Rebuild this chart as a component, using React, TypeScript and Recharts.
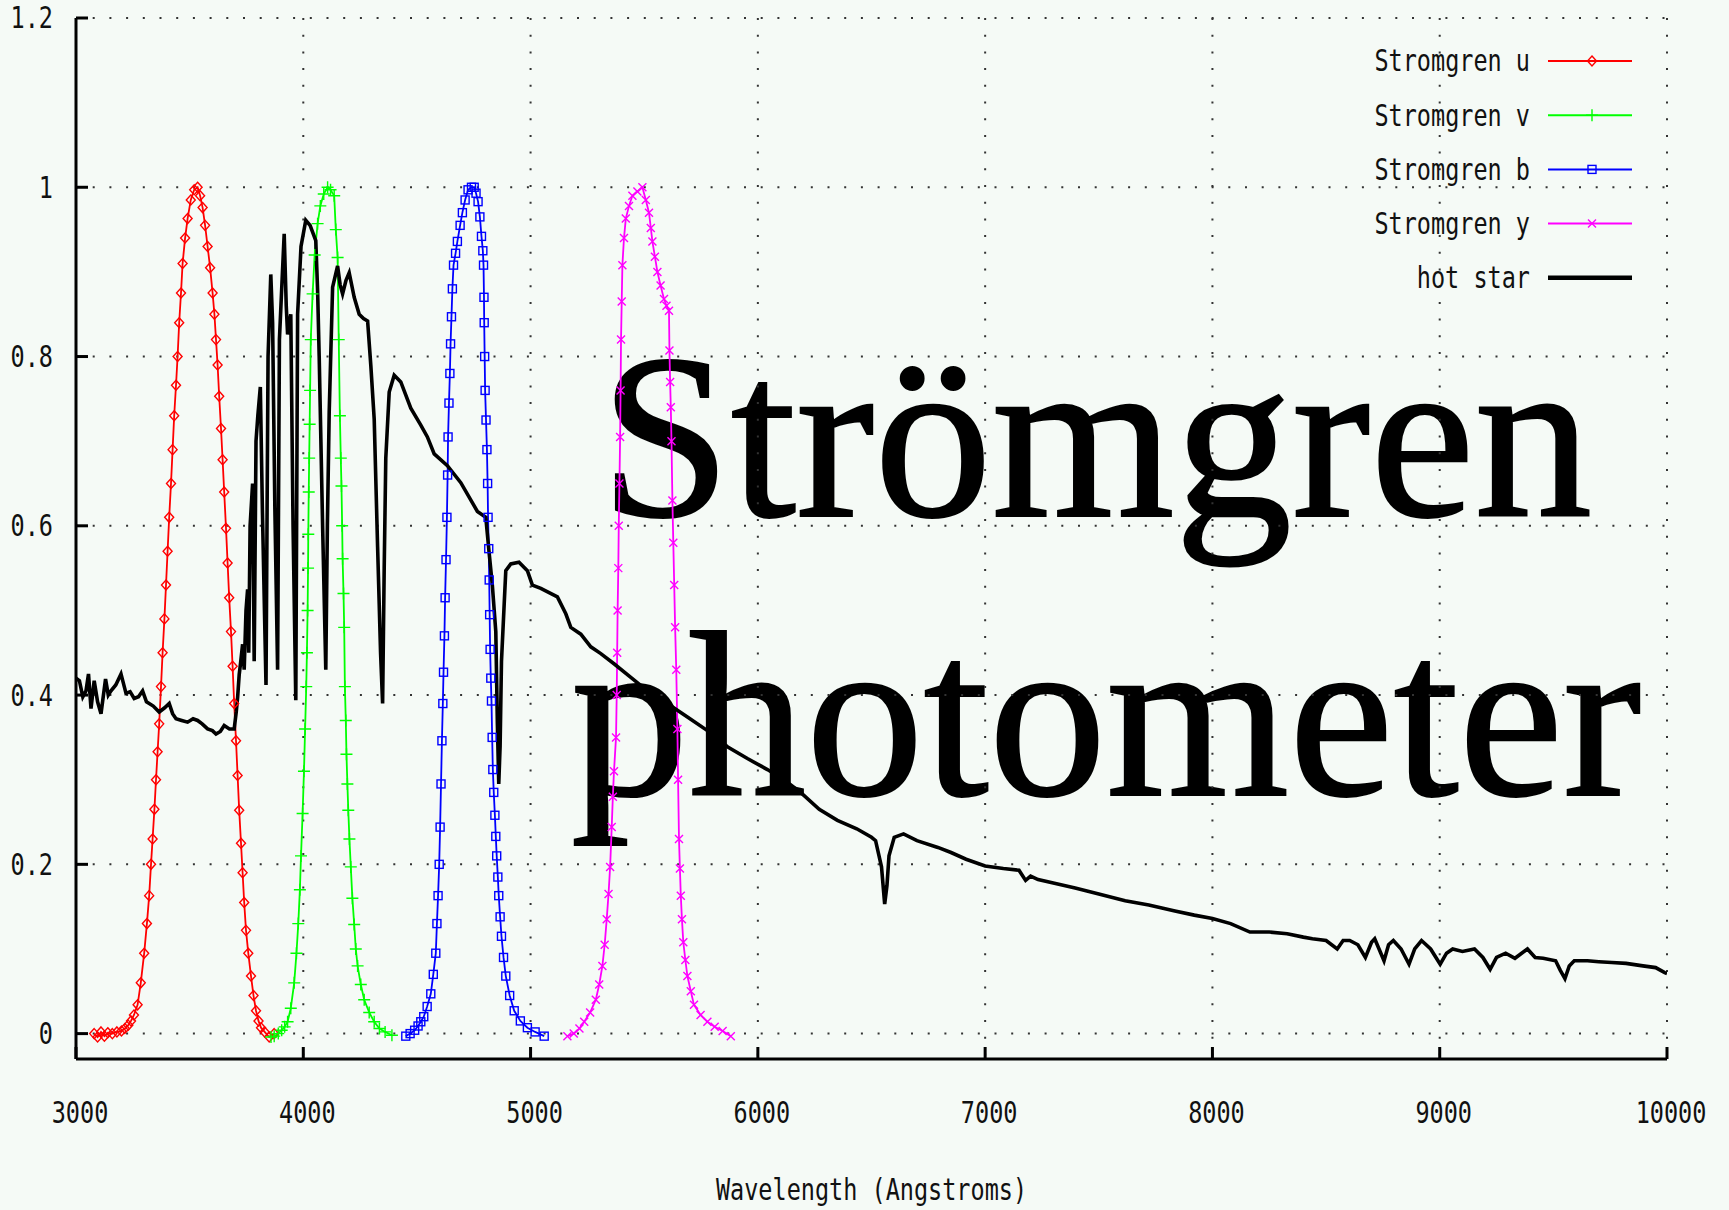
import React from 'react';
import { LineChart, Line, XAxis, YAxis, CartesianGrid, Legend, Label } from 'recharts';

// [wavelength (Angstrom), normalised response]
const stromgrenU: [number, number][] = [
  [3080, 0], [3095, -0.004], [3110, 0.002], [3125, -0.003], [3140, 0.001], [3160, 0], [3180, 0.002],
  [3200, 0.003], [3215, 0.006], [3230, 0.01], [3242, 0.015], [3255, 0.022], [3271, 0.034], [3285, 0.06],
  [3300, 0.095], [3312, 0.13], [3322, 0.163], [3330, 0.2], [3337, 0.23], [3345, 0.265], [3352, 0.3],
  [3359, 0.333], [3366, 0.366], [3374, 0.41], [3381, 0.45], [3389, 0.49], [3396, 0.53], [3403, 0.57],
  [3410, 0.61], [3418, 0.65], [3425, 0.69], [3432, 0.73], [3440, 0.766], [3447, 0.8], [3454, 0.84],
  [3462, 0.875], [3469, 0.91], [3480, 0.94], [3491, 0.963], [3505, 0.985], [3520, 0.997], [3535, 1.0],
  [3546, 0.99], [3557, 0.976], [3568, 0.955], [3579, 0.93], [3590, 0.905], [3601, 0.875], [3609, 0.85],
  [3616, 0.82], [3623, 0.79], [3630, 0.753], [3638, 0.715], [3645, 0.678], [3652, 0.64], [3660, 0.597],
  [3667, 0.556], [3674, 0.515], [3682, 0.475], [3689, 0.434], [3696, 0.39], [3704, 0.346], [3711, 0.305],
  [3718, 0.264], [3726, 0.225], [3733, 0.19], [3740, 0.155], [3748, 0.122], [3758, 0.095], [3770, 0.068],
  [3781, 0.045], [3792, 0.027], [3803, 0.015], [3814, 0.007], [3830, 0.002], [3850, -0.004], [3872, 0],
];

const stromgrenV: [number, number][] = [
  [3858, -0.004], [3872, -0.003], [3890, 0], [3905, 0.004], [3918, 0.008], [3931, 0.014], [3945, 0.03],
  [3960, 0.06], [3970, 0.095], [3978, 0.13], [3985, 0.17], [3990, 0.21], [3997, 0.26], [4003, 0.31],
  [4008, 0.36], [4013, 0.41], [4016, 0.45], [4019, 0.5], [4021, 0.55], [4022, 0.59], [4024, 0.64],
  [4026, 0.68], [4028, 0.72], [4030, 0.76], [4033, 0.82], [4041, 0.874], [4050, 0.92], [4063, 0.957],
  [4075, 0.978], [4090, 0.992], [4107, 1.0], [4120, 0.997], [4136, 0.99], [4143, 0.95], [4151, 0.917],
  [4156, 0.82], [4161, 0.73], [4165, 0.68], [4168, 0.647], [4171, 0.6], [4173, 0.561], [4177, 0.52],
  [4180, 0.48], [4183, 0.41], [4187, 0.37], [4190, 0.33], [4194, 0.295], [4198, 0.264], [4203, 0.23],
  [4209, 0.197], [4216, 0.16], [4224, 0.129], [4231, 0.1], [4239, 0.08], [4253, 0.058], [4268, 0.04],
  [4290, 0.025], [4312, 0.014], [4335, 0.006], [4360, 0.002], [4390, -0.002],
];

const stromgrenB: [number, number][] = [
  [4451, -0.003], [4470, 0], [4490, 0.004], [4505, 0.009], [4517, 0.014], [4530, 0.02], [4545, 0.032],
  [4561, 0.047], [4572, 0.07], [4583, 0.095], [4588, 0.13], [4593, 0.163], [4598, 0.2], [4602, 0.244],
  [4606, 0.295], [4610, 0.346], [4614, 0.39], [4617, 0.427], [4621, 0.47], [4624, 0.515], [4628, 0.56],
  [4632, 0.61], [4635, 0.66], [4637, 0.705], [4641, 0.745], [4645, 0.78], [4648, 0.815], [4652, 0.847],
  [4656, 0.88], [4661, 0.908], [4670, 0.922], [4678, 0.936], [4690, 0.955], [4700, 0.97], [4712, 0.985],
  [4725, 0.997], [4740, 1.0], [4752, 1.0], [4760, 0.993], [4769, 0.983], [4777, 0.965], [4784, 0.942],
  [4790, 0.925], [4793, 0.908], [4795, 0.87], [4796, 0.84], [4798, 0.8], [4800, 0.76], [4804, 0.725],
  [4808, 0.69], [4811, 0.65], [4813, 0.61], [4816, 0.573], [4818, 0.536], [4820, 0.495], [4822, 0.454],
  [4825, 0.42], [4828, 0.393], [4831, 0.35], [4834, 0.312], [4838, 0.285], [4843, 0.258], [4847, 0.233],
  [4851, 0.21], [4856, 0.185], [4860, 0.163], [4866, 0.138], [4872, 0.115], [4881, 0.09], [4891, 0.068],
  [4908, 0.045], [4928, 0.027], [4955, 0.015], [4986, 0.007], [5020, 0.002], [5060, -0.003],
];

const stromgrenY: [number, number][] = [
  [5162, -0.003], [5190, 0], [5215, 0.006], [5236, 0.014], [5262, 0.025], [5287, 0.04], [5302, 0.058],
  [5316, 0.08], [5326, 0.105], [5335, 0.135], [5343, 0.165], [5350, 0.197], [5357, 0.244], [5362, 0.28],
  [5367, 0.31], [5376, 0.35], [5379, 0.4], [5381, 0.45], [5383, 0.5], [5386, 0.55], [5388, 0.6],
  [5391, 0.65], [5394, 0.705], [5396, 0.76], [5398, 0.82], [5401, 0.865], [5404, 0.908], [5411, 0.94],
  [5419, 0.963], [5433, 0.978], [5448, 0.99], [5470, 0.995], [5492, 1.0], [5507, 0.985], [5521, 0.97],
  [5529, 0.952], [5536, 0.936], [5547, 0.918], [5558, 0.9], [5572, 0.884], [5587, 0.868], [5598, 0.86],
  [5609, 0.854], [5611, 0.807], [5614, 0.77], [5617, 0.74], [5620, 0.7], [5624, 0.63], [5628, 0.58],
  [5632, 0.53], [5636, 0.48], [5641, 0.43], [5646, 0.36], [5649, 0.3], [5653, 0.23], [5657, 0.195],
  [5661, 0.163], [5666, 0.135], [5672, 0.108], [5681, 0.087], [5690, 0.068], [5705, 0.05], [5719, 0.034],
  [5748, 0.022], [5778, 0.014], [5810, 0.008], [5845, 0.003], [5881, -0.003],
];

const hotStar: [number, number][] = [
  [3000, 0.42], [3015, 0.417], [3030, 0.398], [3044, 0.405], [3055, 0.425], [3066, 0.384], [3080, 0.417],
  [3095, 0.392], [3110, 0.378], [3130, 0.419], [3142, 0.4], [3154, 0.405], [3175, 0.412], [3198, 0.425],
  [3220, 0.402], [3238, 0.404], [3256, 0.396], [3275, 0.398], [3293, 0.405], [3310, 0.392], [3322, 0.39],
  [3340, 0.387], [3366, 0.38], [3390, 0.385], [3410, 0.39], [3425, 0.378], [3440, 0.372], [3465, 0.37],
  [3491, 0.368], [3515, 0.372], [3535, 0.37], [3555, 0.366], [3579, 0.36], [3600, 0.358], [3616, 0.354],
  [3635, 0.357], [3652, 0.364], [3675, 0.36], [3696, 0.36], [3705, 0.38], [3711, 0.397], [3718, 0.424],
  [3725, 0.44], [3733, 0.46], [3740, 0.43], [3748, 0.5], [3755, 0.525], [3760, 0.45], [3766, 0.6],
  [3777, 0.65], [3784, 0.44], [3792, 0.7], [3800, 0.73], [3811, 0.764], [3820, 0.62], [3836, 0.412],
  [3845, 0.8], [3857, 0.897], [3865, 0.84], [3875, 0.62], [3887, 0.43], [3895, 0.82], [3905, 0.88],
  [3916, 0.945], [3925, 0.86], [3931, 0.826], [3945, 0.85], [3955, 0.6], [3967, 0.394], [3975, 0.85],
  [3990, 0.93], [4011, 0.961], [4030, 0.955], [4055, 0.937], [4063, 0.878], [4070, 0.8], [4085, 0.6],
  [4099, 0.43], [4106, 0.6], [4114, 0.734], [4129, 0.882], [4151, 0.907], [4162, 0.885], [4173, 0.874],
  [4188, 0.89], [4202, 0.899], [4224, 0.87], [4246, 0.85], [4265, 0.845], [4283, 0.842], [4297, 0.79],
  [4312, 0.726], [4327, 0.575], [4340, 0.45], [4349, 0.39], [4356, 0.55], [4363, 0.68], [4378, 0.758],
  [4400, 0.778], [4429, 0.77], [4473, 0.739], [4517, 0.719], [4546, 0.705], [4576, 0.685], [4634, 0.671],
  [4693, 0.651], [4766, 0.617], [4803, 0.61], [4817, 0.57], [4832, 0.529], [4847, 0.475], [4854, 0.366],
  [4860, 0.295], [4866, 0.34], [4872, 0.44], [4884, 0.508], [4891, 0.547], [4913, 0.555], [4949, 0.557],
  [4986, 0.547], [5008, 0.53], [5045, 0.526], [5118, 0.516], [5155, 0.496], [5177, 0.48], [5221, 0.472],
  [5265, 0.457], [5309, 0.449], [5367, 0.437], [5441, 0.421], [5514, 0.405], [5602, 0.39], [5690, 0.374],
  [5778, 0.358], [5866, 0.339], [5954, 0.325], [6042, 0.312], [6115, 0.3], [6188, 0.285], [6270, 0.265],
  [6350, 0.252], [6435, 0.242], [6500, 0.232], [6518, 0.228], [6544, 0.197], [6558, 0.153], [6568, 0.175],
  [6577, 0.21], [6600, 0.232], [6641, 0.236], [6700, 0.228], [6792, 0.22], [6850, 0.214], [6916, 0.206],
  [7000, 0.198], [7080, 0.195], [7149, 0.193], [7178, 0.181], [7200, 0.186], [7233, 0.182], [7300, 0.178],
  [7396, 0.172], [7500, 0.165], [7616, 0.157], [7720, 0.152], [7835, 0.145], [7920, 0.14], [8000, 0.136],
  [8080, 0.13], [8165, 0.12], [8250, 0.12], [8329, 0.118], [8400, 0.114], [8440, 0.112], [8500, 0.11],
  [8549, 0.1], [8575, 0.11], [8604, 0.11], [8640, 0.105], [8673, 0.09], [8700, 0.108], [8714, 0.112],
  [8755, 0.086], [8775, 0.105], [8796, 0.11], [8830, 0.1], [8865, 0.082], [8890, 0.1], [8920, 0.11],
  [8960, 0.1], [9002, 0.082], [9030, 0.095], [9057, 0.1], [9100, 0.097], [9153, 0.1], [9190, 0.09],
  [9222, 0.076], [9250, 0.09], [9290, 0.095], [9331, 0.089], [9386, 0.1], [9420, 0.09], [9455, 0.089],
  [9510, 0.086], [9530, 0.075], [9551, 0.065], [9570, 0.08], [9592, 0.086], [9650, 0.086], [9700, 0.085],
  [9757, 0.084], [9820, 0.083], [9894, 0.08], [9950, 0.078], [9990, 0.072], [10000, 0.071],
];

const xTicks = [3000, 4000, 5000, 6000, 7000, 8000, 9000, 10000];
const yTicks = [0, 0.2, 0.4, 0.6, 0.8, 1, 1.2];

const series = [
  { name: 'Stromgren u', data: stromgrenU, color: '#ff0000', marker: 'diamond', width: 1.8 },
  { name: 'Stromgren v', data: stromgrenV, color: '#00ff00', marker: 'plus', width: 1.8 },
  { name: 'Stromgren b', data: stromgrenB, color: '#0000ff', marker: 'box', width: 1.8 },
  { name: 'Stromgren y', data: stromgrenY, color: '#ff00ff', marker: 'cross', width: 1.8 },
  { name: 'hot star', data: hotStar, color: '#000000', marker: null, width: 3.6 },
];

const BG = '#f5faf6';
const MONO = '"DejaVu Sans Mono", "Liberation Mono", monospace';
const SERIF = '"Liberation Serif", "Times New Roman", serif';

// gnuplot's pixel font is tall and narrow, so stretch the mono font a bit
const PixelText = ({ x, y, anchor, children }: any) => (
  <text
    x={0}
    y={0}
    transform={`translate(${x},${y}) scale(1,1.25)`}
    textAnchor={anchor}
    dominantBaseline="central"
    fontFamily={MONO}
    fontSize={23.5}
    fill="#111"
  >
    {children}
  </text>
);

const Marker = ({ shape, cx, cy, color }: any) => {
  if (cx == null || cy == null) return null;
  const common = { fill: 'none', stroke: color, strokeWidth: 1.4 };
  switch (shape) {
    case 'diamond':
      return <path d={`M${cx},${cy - 5}L${cx + 4.5},${cy}L${cx},${cy + 5}L${cx - 4.5},${cy}Z`} {...common} />;
    case 'plus':
      return <path d={`M${cx - 6},${cy}H${cx + 6}M${cx},${cy - 6}V${cy + 6}`} {...common} />;
    case 'box':
      return <rect x={cx - 4} y={cy - 4} width={8} height={8} {...common} />;
    case 'cross':
      return <path d={`M${cx - 4},${cy - 4}L${cx + 4},${cy + 4}M${cx - 4},${cy + 4}L${cx + 4},${cy - 4}`} {...common} />;
    default:
      return null;
  }
};

const BottomTick = ({ x, y, payload }: any) => (
  <g>
    <line x1={x} x2={x} y1={y} y2={y - 12} stroke="#000" strokeWidth={3} />
    <PixelText x={x + 4} y={y + 54} anchor="middle">{payload.value}</PixelText>
  </g>
);

const TopTick = ({ x, y }: any) => <line x1={x} x2={x} y1={y} y2={y + 11} stroke="#000" strokeWidth={3} />;

const LeftTick = ({ x, y, payload }: any) => (
  <g>
    <line x1={x} x2={x + 12} y1={y} y2={y} stroke="#000" strokeWidth={3} />
    <PixelText x={x - 23} y={y} anchor="end">{String(payload.value)}</PixelText>
  </g>
);

const RightTick = ({ x, y }: any) => <line x1={x} x2={x - 12} y1={y} y2={y} stroke="#000" strokeWidth={3} />;

const AxisTitle = ({ viewBox }: any) => {
  const { x, y, width } = viewBox;
  return <PixelText x={x + width / 2} y={y + 131} anchor="middle">Wavelength (Angstroms)</PixelText>;
};

const LegendBox = () => (
  <svg width={330} height={290}>
    {series.map((s, i) => {
      const cy = 41 + i * 54.2;
      return (
        <g key={s.name}>
          <PixelText x={200} y={cy} anchor="end">{s.name}</PixelText>
          <line x1={218} x2={302} y1={cy} y2={cy} stroke={s.color} strokeWidth={s.marker ? 2 : 4.5} />
          <Marker shape={s.marker} cx={262} cy={cy} color={s.color} />
        </g>
      );
    })}
  </svg>
);

export default function App() {
  return (
    <div style={{ position: 'absolute', left: 0, top: 0, width: 1729, height: 1210, background: BG, overflow: 'hidden' }}>
      <svg width={1729} height={1210} style={{ position: 'absolute', left: 0, top: 0 }}>
        <text x={600} y={516} fontFamily={SERIF} fontSize={235} fill="#000" stroke="#000" strokeWidth={2}>
          Strömgren
        </text>
        <text x={571} y={795} fontFamily={SERIF} fontSize={235} fill="#000" stroke="#000" strokeWidth={2}>
          photometer
        </text>
      </svg>
      <div style={{ position: 'absolute', left: 0, top: 0 }}>
        <LineChart width={1729} height={1210} margin={{ top: 18, right: 62, bottom: 0, left: 0 }}>
          <CartesianGrid stroke="#333" strokeWidth={2} strokeDasharray="2 14.7" />
          <XAxis
            type="number"
            dataKey="x"
            domain={[3000, 10000]}
            ticks={xTicks}
            interval={0}
            allowDataOverflow
            height={151}
            tickSize={0}
            tickMargin={0}
            tickLine={false}
            axisLine={{ stroke: '#000', strokeWidth: 3 }}
            tick={<BottomTick />}
          >
            <Label content={<AxisTitle />} />
          </XAxis>
          <XAxis
            xAxisId="top"
            orientation="top"
            type="number"
            dataKey="x"
            domain={[3000, 10000]}
            ticks={xTicks}
            interval={0}
            height={0}
            tickSize={0}
            tickMargin={0}
            tickLine={false}
            axisLine={{ stroke: '#000', strokeWidth: 3 }}
            tick={<TopTick />}
          />
          <YAxis
            type="number"
            domain={[-0.03, 1.2]}
            ticks={yTicks}
            interval={0}
            allowDataOverflow
            width={76}
            tickSize={0}
            tickMargin={0}
            tickLine={false}
            axisLine={{ stroke: '#000', strokeWidth: 3 }}
            tick={<LeftTick />}
          />
          <YAxis
            yAxisId="right"
            orientation="right"
            type="number"
            domain={[-0.03, 1.2]}
            ticks={yTicks}
            interval={0}
            width={0}
            tickSize={0}
            tickMargin={0}
            tickLine={false}
            axisLine={{ stroke: '#000', strokeWidth: 3 }}
            tick={<RightTick />}
          />
          <Legend
            layout="horizontal"
            verticalAlign="middle"
            align="center"
            content={() => <LegendBox />}
            wrapperStyle={{ position: 'absolute', left: 1330, top: 20, width: 330, height: 290 }}
          />
          {series.map((s) => (
            <Line
              key={s.name}
              name={s.name}
              data={s.data.map(([x, y]) => ({ x, y }))}
              dataKey="y"
              type="linear"
              stroke={s.color}
              strokeWidth={s.width}
              isAnimationActive={false}
              dot={
                s.marker
                  ? (p: any) => <Marker key={`${s.name}-${p.index}`} shape={s.marker} cx={p.cx} cy={p.cy} color={s.color} />
                  : false
              }
              activeDot={false}
            />
          ))}
        </LineChart>
      </div>
    </div>
  );
}
